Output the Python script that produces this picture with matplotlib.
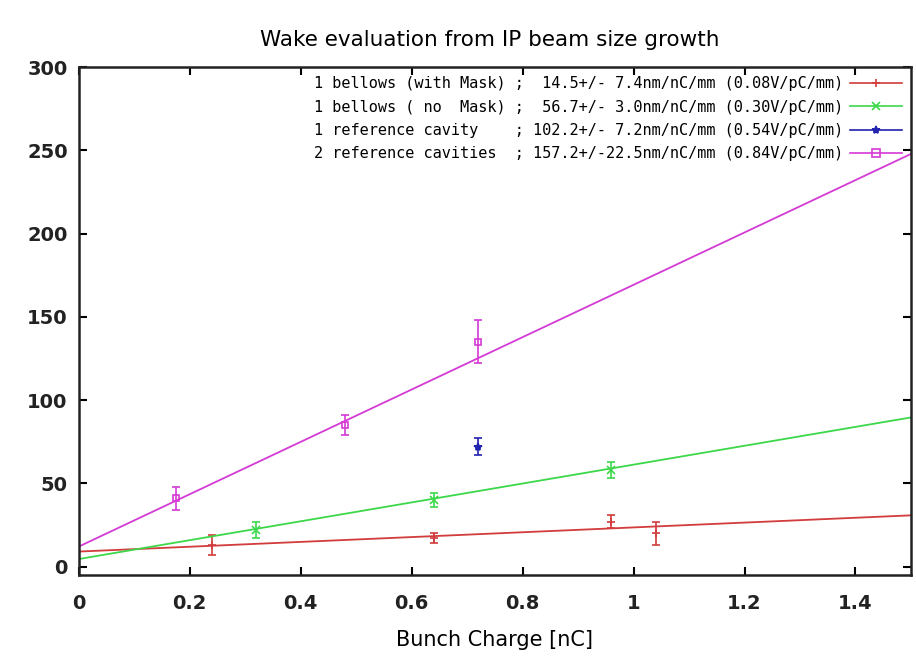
import numpy as np
import matplotlib
matplotlib.use("Agg")
import matplotlib.pyplot as plt
from matplotlib.lines import Line2D

# Measured beam size growth vs bunch charge
x_mask = [0.24, 0.64, 0.96, 1.04]
y_mask = [13, 17, 27, 20]
e_mask = [6, 3, 4, 7]

x_nomask = [0.32, 0.64, 0.96]
y_nomask = [22, 40, 58]
e_nomask = [5, 4, 5]

x_cav1 = [0.72]
y_cav1 = [72]
e_cav1 = [5]

x_cav2 = [0.175, 0.48, 0.72]
y_cav2 = [41, 85, 135]
e_cav2 = [7, 6, 13]

# Linear fits: slope [nm/nC/mm] and intercept
slopes = [14.5, 56.7, 157.2]
intercepts = [9.0, 4.5, 12.0]

labels = [
    "1 bellows (with Mask) ;  14.5+/- 7.4nm/nC/mm (0.08V/pC/mm)",
    "1 bellows ( no  Mask) ;  56.7+/- 3.0nm/nC/mm (0.30V/pC/mm)",
    "1 reference cavity    ; 102.2+/- 7.2nm/nC/mm (0.54V/pC/mm)",
    "2 reference cavities  ; 157.2+/-22.5nm/nC/mm (0.84V/pC/mm)",
]

colors = ["#d23c3c", "#3cd84a", "#2222b0", "#d43ad4"]
markers = ["+", "x", "*", "s"]

fig = plt.figure(figsize=(9.16, 6.57), dpi=100)
ax = fig.add_axes([0.086, 0.125, 0.9085, 0.773])

datasets = [
    (x_mask, y_mask, e_mask),
    (x_nomask, y_nomask, e_nomask),
    (x_cav1, y_cav1, e_cav1),
    (x_cav2, y_cav2, e_cav2),
]

for i, (xs, ys, es) in enumerate(datasets):
    ax.errorbar(xs, ys, yerr=es, fmt=markers[i], color=colors[i],
                ms=6 if markers[i] != "s" else 5,
                mfc="none" if markers[i] == "s" else colors[i],
                mew=1.2, elinewidth=1.2, capsize=3, capthick=1.2)

xfit = np.array([0.0, 1.5])
fit_colors = [colors[0], colors[1], colors[3]]
for s, b, c in zip(slopes, intercepts, fit_colors):
    ax.plot(xfit, b + s * xfit, color=c, lw=1.3)

# Legend handles: line with marker
leg_handles = [Line2D([0], [0], color=c, marker=m, lw=1.2, ms=6,
                      mfc="none" if m == "s" else c, mew=1.2)
               for c, m in zip(colors, markers)]
ax.legend(leg_handles, labels, loc="upper right", markerfirst=False,
          frameon=False, prop={"family": "DejaVu Sans Mono", "size": 11.0},
          handlelength=3.4, labelspacing=0.55, borderaxespad=0.2,
          handletextpad=0.4)

ax.set_xlim(0, 1.5)
ax.set_ylim(-5, 300)
ax.set_xticks([0, 0.2, 0.4, 0.6, 0.8, 1, 1.2, 1.4])
ax.set_xticklabels(["0", "0.2", "0.4", "0.6", "0.8", "1", "1.2", "1.4"])
ax.set_yticks([0, 50, 100, 150, 200, 250, 300])

ax.tick_params(direction="in", top=True, right=True, length=6, width=1.5,
               labelsize=14)
ax.tick_params(axis="x", pad=14)
ax.tick_params(axis="y", pad=8)
for lab in ax.get_xticklabels() + ax.get_yticklabels():
    lab.set_fontweight("bold")
    lab.set_color("#222222")
for sp in ax.spines.values():
    sp.set_linewidth(1.8)
    sp.set_color("#222222")

ax.set_xlabel("Bunch Charge [nC]", fontsize=15, labelpad=12)
fig.suptitle("Wake evaluation from IP beam size growth", fontsize=15.5,
             x=0.535, y=0.955)

fig.savefig("out.png", dpi=100)
